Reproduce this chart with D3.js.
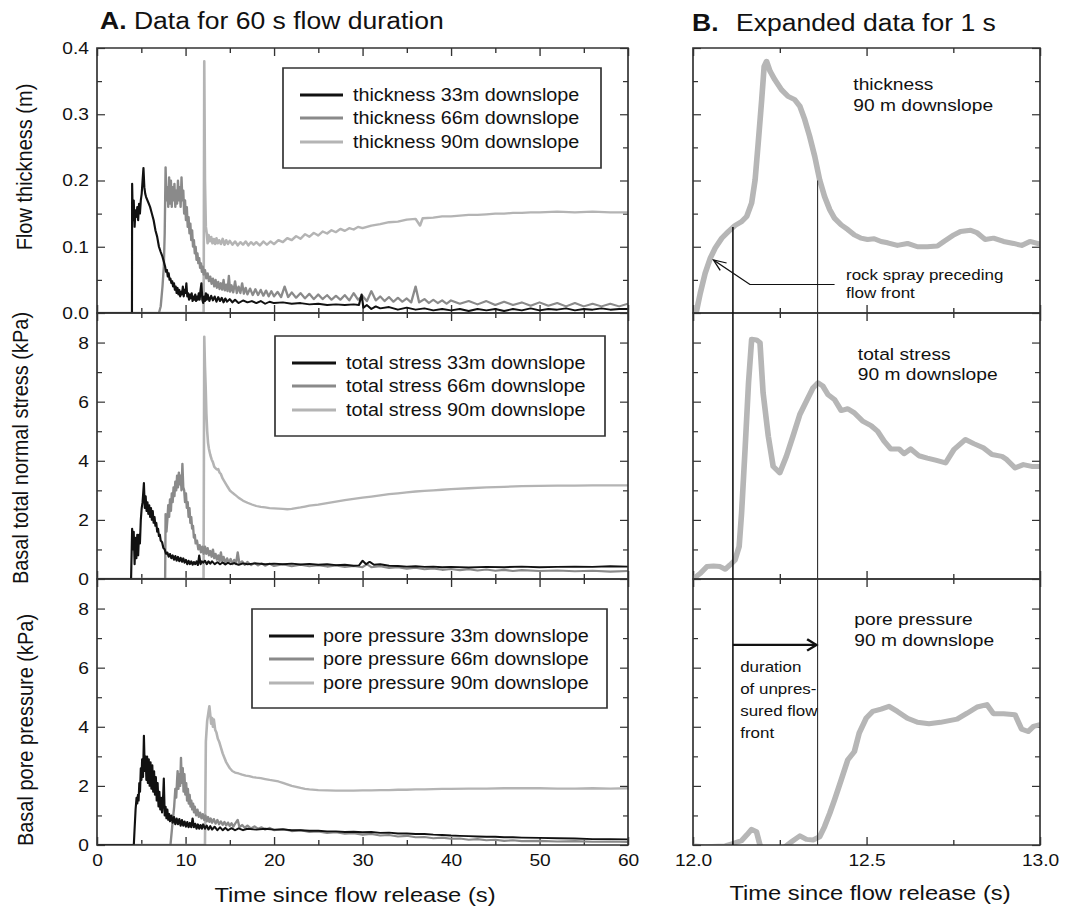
<!DOCTYPE html>
<html><head><meta charset="utf-8">
<script src="https://cdn.jsdelivr.net/npm/d3@7"></script>
<style>
body{margin:0;background:#fff}
svg{display:block}
text{font-family:"Liberation Sans",Arial,Helvetica,sans-serif;fill:#111}
</style>
</head><body><svg id="chart"></svg>
<script>
// ---------------- DATA ----------------
const xTicksA = [0, 10, 20, 30, 40, 50, 60];
const xMinorA = [5, 15, 25, 35, 45, 55];
const xTicksB = [12.0, 12.5, 13.0];
const xMinorB = [12.25, 12.75];
const yTicksThick = [0, 0.1, 0.2, 0.3, 0.4];
const yMinorThick = [0.05, 0.15, 0.25, 0.35];
const yTicksKPa = [0, 2, 4, 6, 8];
const yMinorKPa = [1, 3, 5, 7];

const stations = ["33m", "66m", "90m"];
const legendThick = ["thickness 33m downslope", "thickness 66m downslope", "thickness 90m downslope"];
const legendStress = ["total stress 33m downslope", "total stress 66m downslope", "total stress 90m downslope"];
const legendPore = ["pore pressure 33m downslope", "pore pressure 66m downslope", "pore pressure 90m downslope"];

// Flow thickness (m), [time s, value]
const thick33 = [[0,0],[3.95,0],[3.97,0.195],[4.05,0.14],[4.15,0.17],[4.25,0.13],[4.35,0.155],[4.45,0.145],[4.55,0.16],[4.65,0.14],[4.75,0.165],[4.85,0.15],[4.95,0.17],[5.05,0.18],[5.15,0.2],[5.25,0.219],[5.35,0.19],[5.45,0.18],[5.55,0.175],[5.7,0.17],[5.85,0.165],[6.0,0.16],[6.2,0.15],[6.4,0.14],[6.6,0.125],[6.8,0.115],[7.0,0.1],[7.2,0.092],[7.4,0.085],[7.5,0.08],[7.6,0.075],[7.7,0.07],[7.8,0.062],[7.9,0.065],[8.0,0.055],[8.1,0.06],[8.2,0.05],[8.3,0.052],[8.4,0.045],[8.5,0.048],[8.6,0.04],[8.7,0.045],[8.8,0.035],[8.9,0.04],[9.0,0.03],[9.1,0.038],[9.2,0.028],[9.3,0.035],[9.4,0.025],[9.5,0.032],[9.6,0.028],[9.7,0.04],[9.8,0.025],[9.9,0.035],[10.0,0.03],[10.1,0.045],[10.2,0.025],[10.3,0.03],[10.4,0.02],[10.5,0.028],[10.6,0.022],[10.7,0.03],[10.8,0.018],[10.9,0.025],[11.0,0.02],[11.1,0.028],[11.2,0.018],[11.3,0.025],[11.4,0.02],[11.5,0.03],[11.6,0.02],[11.7,0.035],[11.8,0.045],[11.9,0.02],[12.0,0.015],[12.1,0.025],[12.2,0.018],[12.3,0.03],[12.4,0.02],[12.5,0.028],[12.7,0.018],[12.9,0.026],[13.1,0.019],[13.3,0.025],[13.5,0.017],[13.7,0.024],[13.9,0.018],[14.1,0.023],[14.3,0.016],[14.5,0.022],[14.7,0.017],[15,0.021],[15.3,0.016],[15.6,0.02],[16,0.015],[16.5,0.019],[17,0.016],[17.5,0.018],[18,0.015],[18.5,0.018],[19,0.014],[19.5,0.017],[20,0.015],[21,0.016],[22,0.014],[23,0.015],[24,0.013],[25,0.014],[26,0.012],[27,0.013],[28,0.012],[29,0.013],[29.6,0.012],[29.9,0.028],[30.1,0.008],[30.5,0.012],[31,0.006],[31.5,0.01],[32,0.007],[33,0.009],[34,0.005],[35,0.008],[36,0.005],[37,0.007],[38,0.004],[39,0.006],[40,0.004],[41,0.006],[42,0.003],[43,0.006],[44,0.004],[45,0.006],[46,0.003],[47,0.006],[48,0.004],[49,0.007],[50,0.004],[51,0.006],[52,0.005],[53,0.007],[54,0.004],[55,0.006],[56,0.005],[57,0.007],[58,0.005],[59,0.006],[60,0.006]];
const thick66 = [[0,0],[7.0,0],[7.2,0.01],[7.4,0.04],[7.55,0.07],[7.65,0.12],[7.75,0.22],[7.85,0.17],[7.95,0.19],[8.05,0.16],[8.15,0.205],[8.25,0.165],[8.35,0.2],[8.45,0.16],[8.55,0.19],[8.65,0.17],[8.75,0.195],[8.85,0.16],[8.95,0.185],[9.05,0.165],[9.15,0.2],[9.25,0.17],[9.35,0.19],[9.45,0.16],[9.55,0.205],[9.65,0.17],[9.75,0.185],[9.85,0.15],[9.95,0.17],[10.05,0.14],[10.15,0.16],[10.25,0.13],[10.35,0.145],[10.45,0.12],[10.55,0.135],[10.65,0.11],[10.75,0.125],[10.85,0.1],[10.95,0.11],[11.05,0.09],[11.15,0.1],[11.25,0.08],[11.35,0.09],[11.45,0.075],[11.55,0.083],[11.65,0.068],[11.75,0.075],[11.85,0.062],[11.95,0.07],[12.05,0.058],[12.2,0.065],[12.35,0.052],[12.5,0.06],[12.65,0.048],[12.8,0.055],[12.95,0.044],[13.1,0.052],[13.25,0.04],[13.4,0.05],[13.55,0.038],[13.7,0.047],[13.85,0.036],[14.0,0.045],[14.15,0.035],[14.3,0.05],[14.45,0.034],[14.6,0.043],[14.75,0.033],[14.9,0.056],[15.05,0.032],[15.2,0.042],[15.4,0.031],[15.6,0.048],[15.8,0.03],[16.0,0.04],[16.2,0.03],[16.4,0.045],[16.6,0.029],[16.8,0.038],[17.0,0.028],[17.3,0.037],[17.6,0.027],[17.9,0.036],[18.2,0.027],[18.5,0.035],[18.8,0.026],[19.1,0.034],[19.4,0.025],[19.7,0.033],[20.0,0.025],[20.4,0.032],[20.8,0.024],[21.2,0.04],[21.6,0.024],[22.0,0.031],[22.5,0.023],[23.0,0.03],[23.5,0.022],[24,0.029],[24.5,0.021],[25,0.028],[25.5,0.021],[26,0.027],[26.5,0.02],[27,0.026],[27.5,0.02],[28,0.027],[28.5,0.019],[29,0.03],[29.5,0.02],[30,0.026],[30.5,0.018],[31,0.033],[31.5,0.019],[32,0.025],[32.5,0.018],[33,0.024],[33.5,0.017],[34,0.023],[34.5,0.017],[35,0.022],[35.5,0.016],[36,0.04],[36.4,0.016],[37,0.021],[37.5,0.015],[38,0.02],[38.5,0.015],[39,0.019],[39.5,0.014],[40,0.019],[41,0.014],[42,0.018],[43,0.013],[44,0.018],[45,0.012],[46,0.017],[47,0.012],[48,0.016],[49,0.011],[50,0.016],[51,0.011],[52,0.015],[53,0.01],[54,0.015],[55,0.01],[56,0.014],[57,0.01],[58,0.014],[59,0.01],[60,0.014]];
const thick90 = [[0,0],[12.05,0],[12.12,0.38],[12.2,0.2],[12.3,0.13],[12.4,0.12],[12.5,0.105],[12.6,0.118],[12.75,0.108],[12.9,0.115],[13.05,0.105],[13.2,0.112],[13.35,0.104],[13.5,0.113],[13.65,0.105],[13.8,0.11],[14,0.104],[14.2,0.112],[14.4,0.103],[14.6,0.11],[14.8,0.104],[15,0.109],[15.3,0.103],[15.6,0.108],[15.9,0.102],[16.2,0.107],[16.5,0.103],[16.8,0.108],[17.1,0.102],[17.4,0.107],[17.7,0.103],[18,0.107],[18.4,0.102],[18.8,0.108],[19.2,0.103],[19.6,0.108],[20,0.104],[20.5,0.11],[21,0.107],[21.5,0.113],[22,0.11],[22.5,0.116],[23,0.112],[23.5,0.119],[24,0.115],[24.5,0.121],[25,0.117],[25.5,0.123],[26,0.12],[26.5,0.125],[27,0.122],[27.5,0.127],[28,0.124],[28.5,0.128],[29,0.126],[29.5,0.13],[30,0.128],[31,0.132],[32,0.134],[33,0.137],[34,0.138],[35,0.141],[36,0.142],[36.5,0.132],[36.8,0.143],[38,0.144],[39,0.146],[40,0.146],[41,0.147],[42,0.148],[43,0.148],[44,0.149],[45,0.15],[46,0.15],[47,0.151],[48,0.151],[49,0.152],[50,0.152],[52,0.153],[54,0.152],[56,0.153],[58,0.152],[60,0.152]];

// Basal total normal stress (kPa)
const stress33 = [[0,0],[3.85,0],[3.97,1.7],[4.05,1.0],[4.15,1.6],[4.25,0.5],[4.35,1.4],[4.45,0.7],[4.55,1.5],[4.65,0.8],[4.75,1.5],[4.85,1.2],[4.95,2.0],[5.05,2.4],[5.15,2.6],[5.3,3.25],[5.4,2.4],[5.5,2.8],[5.6,2.3],[5.7,2.6],[5.8,2.2],[5.9,2.5],[6.0,2.1],[6.1,2.4],[6.2,2.0],[6.3,2.3],[6.4,1.9],[6.5,2.1],[6.6,1.8],[6.7,1.9],[6.8,1.6],[6.9,1.7],[7.0,1.45],[7.1,1.5],[7.2,1.3],[7.35,1.25],[7.5,1.05],[7.65,1.0],[7.8,0.85],[7.95,0.9],[8.1,0.75],[8.25,0.85],[8.4,0.7],[8.55,0.8],[8.7,0.65],[8.85,0.78],[9.0,0.62],[9.15,0.75],[9.3,0.6],[9.45,0.72],[9.6,0.58],[9.75,0.7],[9.9,0.55],[10.05,0.65],[10.2,0.5],[10.35,0.62],[10.5,0.5],[10.65,0.6],[10.8,0.48],[10.95,0.58],[11.1,0.5],[11.25,0.6],[11.4,0.47],[11.55,0.8],[11.7,0.5],[11.85,0.6],[12.0,0.55],[12.2,0.62],[12.4,0.5],[12.6,0.6],[12.8,0.52],[13.0,0.6],[13.3,0.5],[13.6,0.57],[13.9,0.5],[14.2,0.56],[14.5,0.49],[14.8,0.55],[15.1,0.5],[15.5,0.54],[16,0.48],[16.5,0.53],[17,0.5],[18,0.53],[19,0.5],[20,0.52],[21,0.5],[22,0.52],[23,0.49],[24,0.51],[25,0.48],[26,0.5],[27,0.47],[28,0.48],[29,0.45],[29.6,0.46],[30,0.62],[30.4,0.5],[30.8,0.58],[31.3,0.48],[32,0.5],[33,0.45],[34,0.44],[35,0.42],[36,0.43],[37,0.41],[38,0.42],[39,0.4],[40,0.41],[42,0.39],[44,0.41],[46,0.4],[48,0.42],[50,0.4],[52,0.41],[54,0.42],[56,0.41],[58,0.43],[60,0.42]];
const stress66 = [[0,0],[7.7,0],[7.75,2.2],[7.85,1.6],[7.95,2.0],[8.05,2.5],[8.15,2.1],[8.25,2.7],[8.35,2.3],[8.45,2.9],[8.55,2.6],[8.65,3.1],[8.75,2.8],[8.85,3.3],[8.95,3.0],[9.05,3.5],[9.15,3.1],[9.25,3.6],[9.35,3.2],[9.45,3.5],[9.55,3.0],[9.65,3.9],[9.75,3.1],[9.85,3.0],[9.95,2.6],[10.05,2.9],[10.15,2.4],[10.25,2.6],[10.35,2.1],[10.45,2.4],[10.55,1.9],[10.65,2.1],[10.75,1.7],[10.85,1.8],[10.95,1.4],[11.05,1.5],[11.15,1.2],[11.3,1.3],[11.45,1.0],[11.6,1.15],[11.75,0.9],[11.9,1.1],[12.05,0.85],[12.2,1.1],[12.35,0.85],[12.5,1.05],[12.65,0.8],[12.8,0.95],[12.95,0.75],[13.1,1.0],[13.25,0.7],[13.4,0.85],[13.55,0.65],[13.7,0.8],[13.85,0.6],[14.0,0.9],[14.15,0.6],[14.3,0.75],[14.5,0.55],[14.7,0.7],[14.9,0.55],[15.1,0.68],[15.3,0.5],[15.5,0.65],[15.7,0.5],[15.9,0.9],[16.1,0.5],[16.4,0.6],[16.7,0.48],[17,0.58],[17.4,0.47],[17.8,0.55],[18.2,0.46],[18.6,0.53],[19,0.45],[19.5,0.52],[20,0.44],[21,0.5],[22,0.43],[23,0.48],[24,0.43],[25,0.47],[26,0.42],[27,0.46],[28,0.41],[29,0.44],[30,0.4],[30.5,0.5],[31,0.4],[32,0.43],[33,0.37],[34,0.4],[35,0.35],[36,0.38],[37,0.33],[38,0.36],[39,0.31],[40,0.34],[41,0.3],[42,0.33],[43,0.29],[44,0.32],[45,0.28],[46,0.31],[47,0.27],[48,0.3],[50,0.27],[52,0.29],[54,0.26],[56,0.28],[58,0.25],[60,0.27]];
const stress90 = [[0,0],[12.04,0],[12.12,8.2],[12.2,7.2],[12.28,6.5],[12.36,5.6],[12.45,5.0],[12.55,4.6],[12.65,4.4],[12.8,4.2],[12.95,4.05],[13.1,3.95],[13.25,3.8],[13.4,3.75],[13.55,3.7],[13.7,3.72],[13.85,3.6],[14.0,3.55],[14.2,3.4],[14.4,3.3],[14.6,3.2],[14.8,3.1],[15.0,3.0],[15.3,2.92],[15.6,2.85],[16,2.75],[16.5,2.65],[17,2.58],[17.5,2.52],[18,2.47],[18.5,2.44],[19,2.42],[19.5,2.4],[20,2.39],[20.5,2.38],[21,2.37],[21.5,2.36],[22,2.37],[22.5,2.4],[23,2.42],[23.5,2.45],[24,2.48],[25,2.52],[26,2.57],[27,2.62],[28,2.67],[29,2.71],[30,2.75],[31,2.79],[32,2.83],[33,2.87],[34,2.9],[35,2.93],[36,2.96],[37,2.98],[38,3.0],[39,3.02],[40,3.04],[42,3.07],[44,3.1],[46,3.12],[48,3.14],[50,3.15],[52,3.16],[54,3.16],[56,3.17],[58,3.17],[60,3.17]];

// Basal pore pressure (kPa)
const pore33 = [[0,0],[4.16,0],[4.24,0.5],[4.36,1.2],[4.47,1.6],[4.55,1.4],[4.63,1.7],[4.7,1.5],[4.78,2.1],[4.86,1.8],[4.95,2.6],[5.02,2.2],[5.1,2.9],[5.2,2.3],[5.3,3.7],[5.4,2.5],[5.5,3.0],[5.58,2.2],[5.66,3.0],[5.75,2.1],[5.85,2.9],[5.95,2.0],[6.05,2.8],[6.15,1.9],[6.25,2.7],[6.35,1.8],[6.45,2.5],[6.55,1.7],[6.65,2.3],[6.75,1.5],[6.85,2.1],[6.95,1.3],[7.05,1.8],[7.15,1.2],[7.25,1.6],[7.35,1.1],[7.45,1.5],[7.55,2.25],[7.65,1.0],[7.75,1.3],[7.85,0.9],[7.95,1.2],[8.05,0.85],[8.15,1.05],[8.25,0.8],[8.4,1.0],[8.55,0.75],[8.7,0.95],[8.85,0.7],[9.0,0.9],[9.15,0.7],[9.3,0.88],[9.45,0.65],[9.6,0.85],[9.75,0.65],[9.9,0.8],[10.05,0.62],[10.2,0.78],[10.35,0.6],[10.5,0.75],[10.65,0.6],[10.8,0.9],[10.95,0.6],[11.1,0.72],[11.25,0.55],[11.4,0.7],[11.55,0.55],[11.7,0.68],[11.85,0.55],[12.0,0.7],[12.2,0.55],[12.4,0.66],[12.6,0.52],[12.8,0.64],[13.0,0.52],[13.3,0.62],[13.6,0.5],[13.9,0.6],[14.2,0.5],[14.5,0.58],[14.8,0.5],[15.2,0.57],[15.6,0.5],[16,0.56],[16.5,0.5],[17,0.55],[18,0.52],[19,0.55],[20,0.52],[21,0.53],[22,0.5],[23,0.5],[24,0.48],[25,0.48],[26,0.46],[27,0.46],[28,0.44],[29,0.45],[30,0.43],[31,0.44],[32,0.41],[33,0.42],[34,0.39],[35,0.39],[36,0.37],[37,0.37],[38,0.35],[39,0.34],[40,0.32],[41,0.31],[42,0.3],[43,0.29],[44,0.28],[45,0.28],[46,0.26],[47,0.26],[48,0.25],[50,0.24],[52,0.23],[54,0.22],[56,0.2],[58,0.2],[60,0.19]];
const pore66 = [[0,0],[8.3,0],[8.52,0.7],[8.72,1.3],[8.85,1.9],[8.95,1.6],[9.05,2.2],[9.11,2.5],[9.2,1.9],[9.3,2.4],[9.4,2.0],[9.49,2.95],[9.58,2.1],[9.69,2.6],[9.78,1.8],[9.88,2.4],[9.98,1.7],[10.08,2.1],[10.18,1.5],[10.27,1.9],[10.37,1.4],[10.47,1.7],[10.57,1.3],[10.66,1.5],[10.76,1.2],[10.86,1.4],[10.96,1.1],[11.05,1.3],[11.2,1.0],[11.35,1.2],[11.5,0.95],[11.65,1.1],[11.8,0.9],[11.95,1.05],[12.1,0.85],[12.25,1.0],[12.4,0.8],[12.55,0.95],[12.7,0.78],[12.85,0.9],[13.0,0.75],[13.2,0.88],[13.4,0.72],[13.6,0.85],[13.8,0.7],[14.0,0.8],[14.2,0.68],[14.4,0.78],[14.6,0.66],[14.8,0.76],[15.0,0.64],[15.2,0.74],[15.4,0.62],[15.6,0.72],[15.9,0.85],[16.1,0.6],[16.4,0.68],[16.7,0.58],[17,0.66],[17.4,0.56],[17.8,0.63],[18.2,0.55],[18.6,0.6],[19,0.52],[19.5,0.58],[20,0.5],[21,0.54],[22,0.47],[23,0.5],[24,0.44],[25,0.46],[26,0.41],[27,0.43],[28,0.38],[29,0.4],[30,0.35],[31,0.37],[32,0.32],[33,0.34],[34,0.29],[35,0.31],[36,0.26],[37,0.27],[38,0.23],[39,0.25],[40,0.21],[41,0.22],[42,0.18],[43,0.2],[44,0.16],[45,0.18],[46,0.14],[47,0.16],[48,0.13],[50,0.14],[52,0.12],[54,0.13],[56,0.11],[58,0.12],[60,0.1]];
const pore90 = [[0,0],[12.2,0],[12.3,3.5],[12.45,4.2],[12.6,4.5],[12.7,4.7],[12.8,4.4],[12.9,4.1],[13.0,4.3],[13.1,4.0],[13.2,4.25],[13.35,3.9],[13.5,3.8],[13.65,3.6],[13.8,3.5],[14.0,3.3],[14.2,3.1],[14.4,2.95],[14.6,2.8],[14.8,2.7],[15.0,2.6],[15.3,2.5],[15.6,2.45],[16,2.42],[16.4,2.38],[16.8,2.35],[17.2,2.33],[17.6,2.3],[18,2.28],[18.5,2.26],[19,2.23],[19.5,2.2],[20,2.18],[20.5,2.15],[21,2.1],[21.5,2.05],[22,2.0],[22.5,1.97],[23,1.93],[23.5,1.9],[24,1.88],[25,1.86],[26,1.85],[27,1.84],[28,1.84],[29,1.84],[30,1.85],[31,1.85],[32,1.86],[33,1.86],[34,1.87],[35,1.87],[36,1.88],[37,1.88],[38,1.89],[39,1.9],[40,1.9],[42,1.91],[44,1.91],[46,1.92],[48,1.92],[50,1.92],[52,1.91],[54,1.91],[56,1.92],[58,1.91],[60,1.92]];

// Panel B: 90 m downslope, expanded 12-13 s
const thickB = [[12.009,0],[12.021,0.03],[12.035,0.06],[12.05,0.083],[12.064,0.098],[12.083,0.113],[12.102,0.123],[12.121,0.132],[12.14,0.138],[12.155,0.146],[12.169,0.166],[12.179,0.201],[12.188,0.257],[12.198,0.322],[12.205,0.372],[12.212,0.38],[12.222,0.365],[12.236,0.352],[12.255,0.337],[12.274,0.327],[12.293,0.322],[12.308,0.312],[12.322,0.292],[12.336,0.267],[12.351,0.236],[12.365,0.201],[12.379,0.176],[12.394,0.156],[12.408,0.143],[12.427,0.133],[12.446,0.126],[12.465,0.118],[12.484,0.113],[12.503,0.111],[12.522,0.112],[12.542,0.108],[12.561,0.106],[12.589,0.102],[12.618,0.105],[12.647,0.1],[12.675,0.1],[12.704,0.101],[12.723,0.108],[12.752,0.118],[12.771,0.123],[12.8,0.125],[12.819,0.121],[12.842,0.111],[12.866,0.113],[12.895,0.108],[12.924,0.105],[12.947,0.102],[12.971,0.108],[13.0,0.104]];
const stressB = [[12.002,0.02],[12.021,0.19],[12.04,0.42],[12.059,0.44],[12.078,0.42],[12.093,0.33],[12.107,0.48],[12.121,0.64],[12.133,1.1],[12.14,2.23],[12.15,4.38],[12.16,6.64],[12.169,8.11],[12.183,8.09],[12.193,8.0],[12.202,6.3],[12.217,4.83],[12.231,3.81],[12.25,3.59],[12.269,4.15],[12.288,4.83],[12.308,5.57],[12.327,6.02],[12.346,6.47],[12.36,6.64],[12.374,6.53],[12.389,6.24],[12.408,6.07],[12.427,5.7],[12.446,5.76],[12.465,5.62],[12.489,5.34],[12.513,5.19],[12.532,5.0],[12.551,4.66],[12.57,4.4],[12.594,4.4],[12.608,4.24],[12.627,4.4],[12.651,4.17],[12.675,4.09],[12.699,4.02],[12.728,3.93],[12.752,4.38],[12.785,4.72],[12.809,4.58],[12.838,4.43],[12.862,4.21],[12.89,4.15],[12.904,4.04],[12.928,3.76],[12.952,3.87],[12.976,3.81],[13.0,3.81]];
const poreB = [[12.002,-0.03],[12.035,-0.06],[12.093,-0.03],[12.117,0.06],[12.14,0.15],[12.155,0.34],[12.169,0.53],[12.183,0.45],[12.193,0.0],[12.202,-0.17],[12.236,-0.2],[12.265,-0.06],[12.284,0.11],[12.308,0.31],[12.327,0.19],[12.346,0.17],[12.365,0.28],[12.379,0.62],[12.394,1.07],[12.408,1.53],[12.427,2.2],[12.446,2.88],[12.465,3.16],[12.479,3.79],[12.499,4.29],[12.518,4.52],[12.542,4.6],[12.565,4.69],[12.589,4.52],[12.618,4.29],[12.647,4.15],[12.68,4.1],[12.713,4.15],[12.761,4.26],[12.79,4.46],[12.819,4.67],[12.847,4.75],[12.866,4.44],[12.895,4.44],[12.928,4.41],[12.947,3.92],[12.966,3.84],[12.981,4.01],[13.0,4.07]];

// Annotation anchors (data units)
const frontStart = 12.115;   // arrival of rock-spray / flow front
const frontEnd = 12.359;     // end of unpressured front

// ---------------- LAYOUT ----------------
const S = 1.13;               // horizontal stretch of the reference figure
const W = 1073, H = 911;
const X = v => v / S;
const colors = ["#111111", "#8a8a8a", "#b4b4b4"];
const widthsA = [1.9, 2.1, 2.3];
const font = '"Liberation Sans", Arial, Helvetica, sans-serif';

const svg = d3.select("#chart")
  .attr("width", W).attr("height", H)
  .attr("viewBox", `0 0 ${W / S} ${H}`)
  .attr("preserveAspectRatio", "none");

const xA = d3.scaleLinear().domain([0, 60]).range([X(97), X(628)]);
const xB = d3.scaleLinear().domain([12, 13]).range([X(693), X(1040)]);

const rows = [
  {top: 48, bot: 313, domain: [0, 0.4], major: yTicksThick, minor: yMinorThick, fmt: d3.format(".1f"),
   series: [thick33, thick66, thick90], b: thickB, legend: legendThick,
   lg: {x0: 283, x1: 601, y0: 68, y1: 168, ys: [95, 118, 142], l0: 300, l1: 343, tx: 353},
   title: "Flow thickness (m)", tx: 32, ty: 167},
  {top: 313, bot: 579, domain: [0, 9], major: yTicksKPa, minor: yMinorKPa, fmt: d3.format("d"),
   series: [stress33, stress66, stress90], b: stressB, legend: legendStress,
   lg: {x0: 275, x1: 605, y0: 336, y1: 436, ys: [363, 386, 410], l0: 292, l1: 336, tx: 346},
   title: "Basal total normal stress (kPa)", tx: 28, ty: 448},
  {top: 579, bot: 845, domain: [0, 9], major: yTicksKPa, minor: yMinorKPa, fmt: d3.format("d"),
   series: [pore33, pore66, pore90], b: poreB, legend: legendPore,
   lg: {x0: 252, x1: 607, y0: 609, y1: 708, ys: [636, 659, 683], l0: 269, l1: 314, tx: 323},
   title: "Basal pore pressure (kPa)", tx: 33, ty: 730}
];
rows.forEach(r => { r.y = d3.scaleLinear().domain(r.domain).range([r.bot, r.top]); });

function styleAxis(a, labelSize) {
  a.select(".domain").remove();
  a.selectAll("line").attr("stroke", "#333").attr("stroke-width", 1.2);
  a.attr("font-family", font).attr("font-size", labelSize || 17);
  a.selectAll("text").attr("fill", "#111");
  return a;
}

const defs = svg.append("defs");

function drawPanel(r, i, x, xMaj, xMin, isA) {
  const g = svg.append("g");
  const [x0, x1] = x.range();
  const clipId = `clip${isA ? "A" : "B"}${i}`;
  defs.append("clipPath").attr("id", clipId).append("rect")
    .attr("x", x0).attr("y", r.top).attr("width", x1 - x0).attr("height", r.bot - r.top);

  // ticks: left / right
  const tl = 8 / S, ts = 5 / S;
  const left = d3.axisLeft(r.y).tickValues(r.major).tickSize(-tl).tickPadding(8 / S)
    .tickFormat(isA ? r.fmt : () => "");
  styleAxis(g.append("g").attr("transform", `translate(${x0},0)`).call(left));
  styleAxis(g.append("g").attr("transform", `translate(${x0},0)`)
    .call(d3.axisLeft(r.y).tickValues(r.minor).tickSize(-ts).tickFormat(() => "")));
  styleAxis(g.append("g").attr("transform", `translate(${x1},0)`)
    .call(d3.axisRight(r.y).tickValues(r.major).tickSize(-tl).tickFormat(() => "")));
  styleAxis(g.append("g").attr("transform", `translate(${x1},0)`)
    .call(d3.axisRight(r.y).tickValues(r.minor).tickSize(-ts).tickFormat(() => "")));

  // ticks: top / bottom
  const last = i === rows.length - 1;
  const bottom = d3.axisBottom(x).tickValues(xMaj).tickSize(-8).tickPadding(9)
    .tickFormat(last ? (isA ? d3.format("d") : d3.format(".1f")) : () => "");
  const ba = styleAxis(g.append("g").attr("transform", `translate(0,${r.bot})`).call(bottom));
  ba.selectAll("text").attr("dy", "0.71em");
  styleAxis(g.append("g").attr("transform", `translate(0,${r.bot})`)
    .call(d3.axisBottom(x).tickValues(xMin).tickSize(-5).tickFormat(() => "")));
  styleAxis(g.append("g").attr("transform", `translate(0,${r.top})`)
    .call(d3.axisTop(x).tickValues(xMaj).tickSize(-8).tickFormat(() => "")));
  styleAxis(g.append("g").attr("transform", `translate(0,${r.top})`)
    .call(d3.axisTop(x).tickValues(xMin).tickSize(-5).tickFormat(() => "")));

  // lines
  const line = d3.line().x(d => x(d[0])).y(d => r.y(d[1]));
  const lg = g.append("g").attr("clip-path", `url(#${clipId})`);
  if (isA) {
    [2, 1, 0].forEach(k => {
      lg.append("path").datum(r.series[k]).attr("d", line)
        .attr("fill", "none").attr("stroke", colors[k]).attr("stroke-width", widthsA[k])
        .attr("stroke-linejoin", "round");
    });
  } else {
    lg.append("path").datum(r.b).attr("d", line)
      .attr("fill", "none").attr("stroke", "#b6b6b6").attr("stroke-width", 5)
      .attr("stroke-linejoin", "round").attr("stroke-linecap", "round");
  }

  // frame
  g.append("rect").attr("x", x0).attr("y", r.top).attr("width", x1 - x0).attr("height", r.bot - r.top)
    .attr("fill", "none").attr("stroke", "#333").attr("stroke-width", 1.5);
  return g;
}

rows.forEach((r, i) => {
  drawPanel(r, i, xA, xTicksA, xMinorA, true);
  drawPanel(r, i, xB, xTicksB, xMinorB, false);

  // legend (panel A)
  const L = r.lg;
  const lgG = svg.append("g");
  lgG.append("rect").attr("x", X(L.x0)).attr("y", L.y0).attr("width", X(L.x1) - X(L.x0)).attr("height", L.y1 - L.y0)
    .attr("fill", "#fff").attr("stroke", "#333").attr("stroke-width", 1.5);
  r.legend.forEach((lab, k) => {
    lgG.append("line").attr("x1", X(L.l0)).attr("x2", X(L.l1)).attr("y1", L.ys[k]).attr("y2", L.ys[k])
      .attr("stroke", colors[k]).attr("stroke-width", 3);
    lgG.append("text").attr("x", X(L.tx)).attr("y", L.ys[k] + 6).attr("font-size", 17.5).text(lab);
  });

  // y axis title
  svg.append("text").attr("transform", `translate(${X(r.tx)},${r.ty}) rotate(-90)`)
    .attr("text-anchor", "middle").attr("font-size", 20).text(r.title);
});

// titles
const tA = svg.append("text").attr("x", X(100)).attr("y", 29).attr("font-size", 23.5);
tA.append("tspan").attr("font-weight", "bold").text("A.");
tA.append("tspan").text(" Data for 60 s flow duration");
const tB = svg.append("text").attr("x", X(692)).attr("y", 31).attr("font-size", 23.5);
tB.append("tspan").attr("font-weight", "bold").text("B.");
tB.append("tspan").attr("dx", 9).text(" Expanded data for 1 s");

// x axis titles
svg.append("text").attr("x", X(355)).attr("y", 902).attr("text-anchor", "middle").attr("font-size", 21)
  .text("Time since flow release (s)");
svg.append("text").attr("x", X(870)).attr("y", 900).attr("text-anchor", "middle").attr("font-size", 21)
  .text("Time since flow release (s)");

// ---------------- PANEL B ANNOTATIONS ----------------
const [rT, rS, rP] = rows;
const ann = svg.append("g");
// vertical marker lines
ann.append("line").attr("x1", xB(frontStart)).attr("x2", xB(frontStart))
  .attr("y1", rT.y(0.13)).attr("y2", rP.bot).attr("stroke", "#111").attr("stroke-width", 1.4);
ann.append("line").attr("x1", xB(frontEnd)).attr("x2", xB(frontEnd))
  .attr("y1", rT.y(0.2)).attr("y2", rP.bot).attr("stroke", "#333").attr("stroke-width", 1);

// rock spray arrow
const sprayPts = [[12.408, 0.043], [12.164, 0.043], [12.059, 0.08]];
ann.append("path").attr("d", d3.line().x(d => xB(d[0])).y(d => rT.y(d[1]))(sprayPts))
  .attr("fill", "none").attr("stroke", "#111").attr("stroke-width", 1.2);
function arrowHead(tip, from, len, ang, width) {
  const dx = tip[0] - from[0], dy = tip[1] - from[1];
  const a = Math.atan2(dy, dx);
  const p1 = [tip[0] - len * Math.cos(a - ang), tip[1] - len * Math.sin(a - ang)];
  const p2 = [tip[0] - len * Math.cos(a + ang), tip[1] - len * Math.sin(a + ang)];
  ann.append("path").attr("d", `M${p1}L${tip}L${p2}`).attr("fill", "none")
    .attr("stroke", "#111").attr("stroke-width", width);
}
arrowHead([xB(12.059), rT.y(0.08)], [xB(12.164), rT.y(0.043)], 12, 0.4, 1.2);

ann.append("text").attr("x", xB(12.441)).attr("y", rT.y(0.05)).attr("font-size", 15).text("rock spray preceding");
ann.append("text").attr("x", xB(12.441)).attr("y", rT.y(0.023)).attr("font-size", 15).text("flow front");

ann.append("text").attr("x", xB(12.462)).attr("y", rT.y(0.337)).attr("font-size", 17).text("thickness");
ann.append("text").attr("x", xB(12.462)).attr("y", rT.y(0.305)).attr("font-size", 17).text("90 m downslope");
ann.append("text").attr("x", xB(12.475)).attr("y", rS.y(7.41)).attr("font-size", 17).text("total stress");
ann.append("text").attr("x", xB(12.475)).attr("y", rS.y(6.73)).attr("font-size", 17).text("90 m downslope");
ann.append("text").attr("x", xB(12.465)).attr("y", rP.y(7.44)).attr("font-size", 17).text("pore pressure");
ann.append("text").attr("x", xB(12.465)).attr("y", rP.y(6.73)).attr("font-size", 17).text("90 m downslope");

// duration arrow
ann.append("line").attr("x1", xB(frontStart)).attr("x2", xB(frontEnd) - 1)
  .attr("y1", rP.y(6.77)).attr("y2", rP.y(6.77)).attr("stroke", "#111").attr("stroke-width", 2.2);
arrowHead([xB(frontEnd) - 1, rP.y(6.77)], [xB(frontStart), rP.y(6.77)], 10, 0.6, 2.2);
["duration", "of unpres-", "sured flow", "front"].forEach((s, k) => {
  ann.append("text").attr("x", xB(12.136)).attr("y", rP.y([5.85, 5.11, 4.37, 3.62][k]))
    .attr("font-size", 15).text(s);
});
</script>
</body></html>
